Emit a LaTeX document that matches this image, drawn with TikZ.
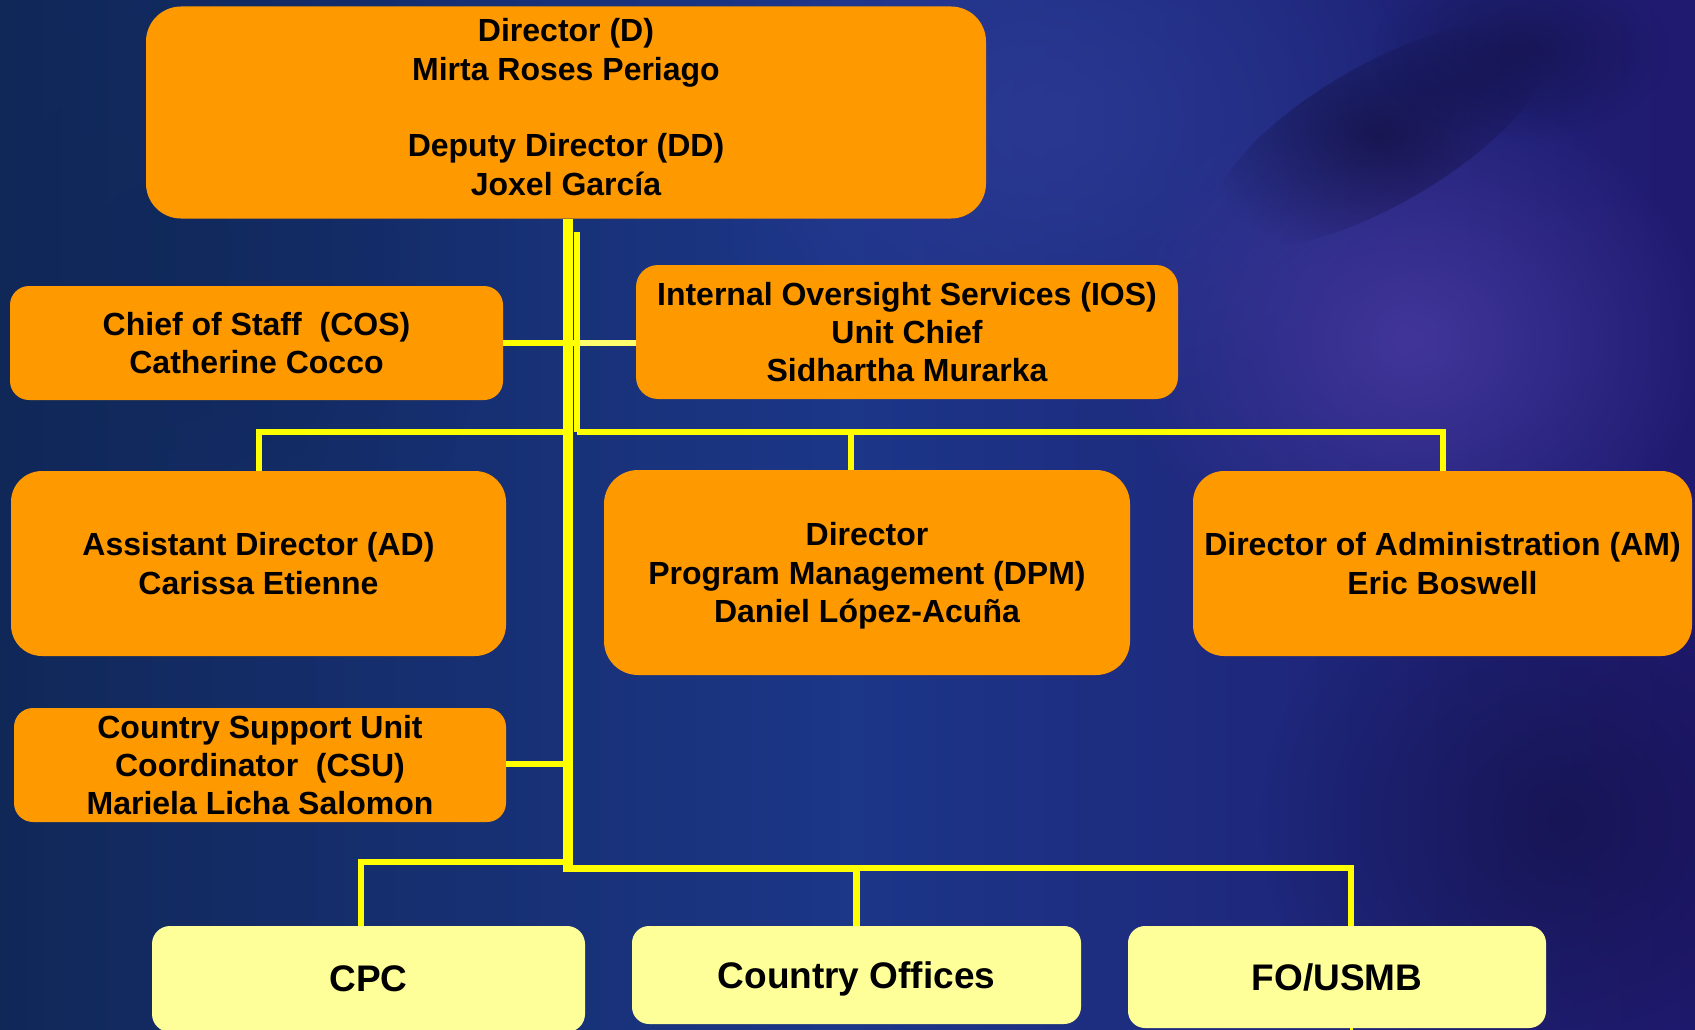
\documentclass[tikz,border=0pt]{standalone}
\usepackage{fontspec}
\setmainfont{Liberation Sans}
\usetikzlibrary{fadings,calc}
\tikzfading[name=glowfade, inner color=transparent!0, outer color=transparent!100]
\definecolor{boxorange}{RGB}{255,153,0}
\definecolor{boxyellow}{RGB}{255,255,153}
\definecolor{lineyellow}{RGB}{255,255,0}
\definecolor{paleyellow}{RGB}{255,255,110}
\definecolor{bgleft}{RGB}{16,40,88}
\definecolor{bgmid}{RGB}{28,54,136}
\definecolor{bgright}{RGB}{32,26,112}
\definecolor{glowpurple}{RGB}{72,56,160}
\definecolor{darkblob}{RGB}{14,10,50}
\definecolor{bluetop}{RGB}{46,58,150}
\tikzset{
  orgbox/.style={rectangle, fill=boxorange, inner sep=0pt, align=center,
    font=\fontsize{32}{38.4}\selectfont\bfseries, text=black},
  lowbox/.style={orgbox, fill=boxyellow, font=\fontsize{37}{44}\selectfont\bfseries},
  conn/.style={draw=lineyellow, line width=6pt},
  trunkline/.style={draw=lineyellow, line width=10pt},
}
\begin{document}
\begin{tikzpicture}[x=1pt,y=-1pt]
% background
\useasboundingbox (0,0) rectangle (1695,1030);
\fill[left color=bgleft, right color=bgright, middle color=bgmid] (0,0) rectangle (1695,1030);
\begin{scope}
\clip (0,0) rectangle (1695,1030);
\fill[bluetop, path fading=glowfade, opacity=0.8] (1050,120) ellipse (380 and 300);
\fill[glowpurple, path fading=glowfade, opacity=0.85] (1410,340) ellipse (300 and 260);
\begin{scope}[shift={(1380,135)}, rotate=30]
\fill[darkblob, path fading=glowfade, opacity=0.6] (0,0) ellipse (190 and 70);
\end{scope}
\fill[darkblob, path fading=glowfade, opacity=0.45] (1520,50) ellipse (150 and 90);
\fill[bgleft, path fading=glowfade, opacity=0.6] (150,250) ellipse (350 and 400);
\fill[darkblob, path fading=glowfade, opacity=0.45] (1560,820) ellipse (300 and 280);
\end{scope}

% junction coordinates
\coordinate (tEnd) at (568,872);
\coordinate (s1) at (577,232);
\coordinate (s2) at (577,432);
\coordinate (l2) at (568,432);
\coordinate (hr) at (568,343);
\coordinate (hc) at (568,764);
\coordinate (b1) at (568,862);
\coordinate (b2) at (568,868);
\coordinate (fobot) at (1351,1030);

% nodes
\node[orgbox, minimum width=840pt, minimum height=212pt, rounded corners=35pt] (D) at (566,112.5)
  {Director (D)\\Mirta Roses Periago\\[38.4pt]Deputy Director (DD)\\Joxel García\rule[-11pt]{0pt}{11pt}};
\node[orgbox, minimum width=493pt, minimum height=114pt, rounded corners=19pt] (COS) at (256.5,343)
  {Chief of Staff\ \ (COS)\\Catherine Cocco};
\node[orgbox, minimum width=542pt, minimum height=134pt, rounded corners=22pt] (IOS) at (907,332)
  {Internal Oversight Services (IOS)\\Unit Chief\\Sidhartha Murarka};
\node[orgbox, minimum width=495pt, minimum height=185pt, rounded corners=31pt] (AD) at (258.5,563.5)
  {Assistant Director (AD)\\Carissa Etienne};
\node[orgbox, minimum width=526pt, minimum height=205pt, rounded corners=34pt] (DPM) at (867,572.5)
  {\rule{0pt}{30pt}Director\\Program Management (DPM)\\Daniel López-Acuña};
\node[orgbox, minimum width=499pt, minimum height=185pt, rounded corners=31pt] (AM) at (1442.5,563.5)
  {Director of Administration (AM)\\Eric Boswell};
\node[orgbox, minimum width=492pt, minimum height=114pt, rounded corners=19pt] (CSU) at (260,765)
  {Country Support Unit\\Coordinator\ \ (CSU)\\Mariela Licha Salomon};
\node[lowbox, minimum width=433pt, minimum height=106pt, rounded corners=18pt] (CPC) at (368.5,979)
  {CPC};
\node[lowbox, minimum width=449pt, minimum height=98pt, rounded corners=17pt] (CO) at (856.5,975)
  {\rule{0pt}{35pt}Country Offices};
\node[lowbox, minimum width=418pt, minimum height=102pt, rounded corners=17pt] (FO) at (1337,977)
  {FO/USMB};

% connectors
\draw[conn] (COS.east |- hr) -- (hr);
\draw[draw=paleyellow, line width=6pt] (hr) -- (IOS.west |- hr);
\draw[conn] (CSU.east |- hc) -- (hc);
\draw[conn] (l2) -| (AD.north);
\draw[conn] (s2) -| (AM.north);
\draw[conn] (s2) -| ([xshift=-16pt]DPM.north);
\draw[draw=lineyellow, line width=6pt] (s1) -- (s2);
\draw[trunkline] ([xshift=2pt]D.south) -- (tEnd);
\draw[conn] (b1) -| ([xshift=-7.5pt]CPC.north);
\draw[draw=lineyellow, line width=7pt] (b2) -| (CO.north);
\draw[conn] (CO.north |- b2) -| ([xshift=14pt]FO.north);
\draw[draw=lineyellow, line width=3pt] ([xshift=14pt]FO.south) -- (fobot);
\end{tikzpicture}
\end{document}
